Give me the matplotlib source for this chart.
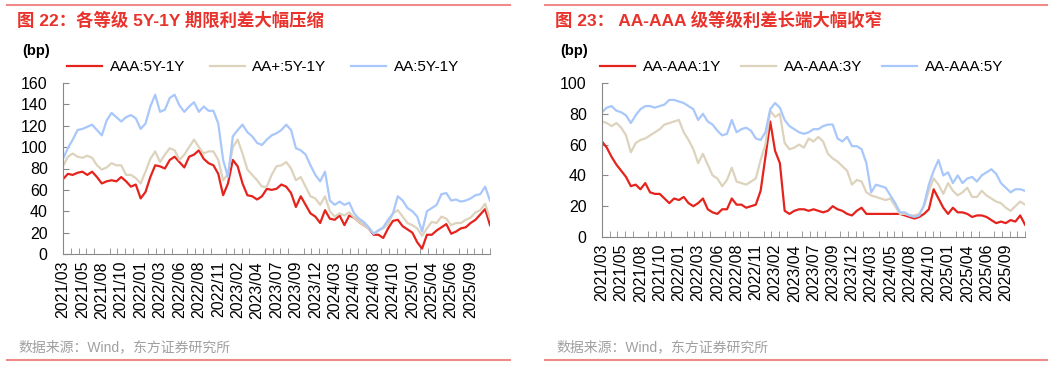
# coding=utf-8
# Two spread panels: 5Y-1Y term spreads by rating, and AA-AAA rating spreads by tenor
import numpy as np
import matplotlib as mpl
import matplotlib.pyplot as plt
from matplotlib.lines import Line2D

mpl.rcParams['font.family'] = ['Liberation Sans', 'Noto Sans CJK SC']

# x tick labels (category axis, one label every 4 samples)
date_labels = ['2021/03', '2021/05', '2021/08', '2021/10', '2022/01', '2022/03',
               '2022/06', '2022/08', '2022/11', '2023/02', '2023/04', '2023/07',
               '2023/09', '2023/12', '2024/03', '2024/05', '2024/08', '2024/10',
               '2025/01', '2025/04', '2025/06', '2025/09']

# Left panel (bp)
aaa_5y1y = [70, 75, 74, 76, 77, 74, 77, 72, 66, 68, 69, 68, 72, 68, 63, 65, 52, 58, 72, 83,
            82, 80, 88, 91, 86, 81, 91, 93, 97, 89, 85,
            83, 75, 55, 66, 88, 82, 66, 55, 54, 51, 54, 61, 60, 61, 65, 63, 57, 44, 54,
            46, 38, 35, 29, 41, 33, 32, 36, 27,
            36, 34, 30, 27, 24, 18, 18, 15, 24, 31, 32, 26, 23, 20, 11, 5, 18, 18, 22, 25,
            28, 19, 21, 24, 25, 29, 32, 37, 42, 27]
aap_5y1y = [82, 91, 94, 91, 90, 92, 90, 83, 79, 81, 85, 83, 83, 74, 74, 71, 66, 77, 89, 96,
            86, 93, 99, 97, 88, 93, 100, 107, 100, 94, 96,
            96, 88, 69, 75, 100, 107, 94, 79, 74, 69, 63, 63, 74, 82, 83, 86, 80, 69, 72,
            63, 54, 52, 46, 54, 40, 35, 38, 36,
            39, 34, 30, 27, 24, 19, 22, 24, 28, 38, 41, 35, 29, 27, 24, 17, 24, 30, 29, 35,
            33, 27, 29, 29, 32, 34, 39, 41, 47, 33]
aa_5y1y = [89, 99, 107, 116, 117, 119, 121, 116, 111, 125, 132, 128, 124, 128, 130, 127, 117, 122, 138, 149,
           133, 135, 146, 149, 139, 133, 138, 142, 133, 138, 134,
           134, 122, 88, 72, 110, 116, 121, 114, 110, 104, 102, 107, 111, 113, 116, 121, 116, 99, 97,
           93, 83, 74, 68, 77, 50, 46, 49, 46,
           48, 38, 33, 30, 25, 19, 22, 25, 32, 38, 54, 50, 43, 40, 35, 21, 40, 43, 46, 56,
           57, 50, 51, 49, 50, 52, 55, 56, 63, 50]

# Right panel (bp)
aa_aaa_1y = [62, 58, 52, 47, 43, 39, 33, 34, 31, 35, 29, 28, 28, 25, 22, 25, 24, 26, 22, 20,
             22, 25, 18, 16, 15, 18, 18, 25, 21, 21, 19,
             20, 21, 30, 52, 75, 56, 48, 17, 15, 17, 18, 18, 17, 18, 17, 16, 17, 20, 18,
             17, 15, 14, 17, 19, 15, 15, 15, 15, 15,
             15, 15, 15, 14, 13, 12, 13, 15, 18, 31, 25, 19, 15, 19, 16, 16, 15, 13, 14,
             14, 13, 11, 9, 10, 9, 11, 10, 14, 8]
aa_aaa_3y = [75, 74, 72, 74, 71, 66, 55, 61, 63, 64, 66, 68, 70, 73, 74, 75, 76, 68, 63, 57,
             48, 54, 47, 40, 38, 33, 37, 45, 36, 35, 34,
             36, 38, 50, 60, 82, 78, 80, 61, 57, 58, 60, 58, 64, 62, 65, 62, 54, 51, 49,
             46, 43, 34, 37, 36, 29, 27, 26, 25, 24,
             25, 20, 15, 15, 14, 14, 15, 20, 30, 38, 34, 28, 35, 30, 27, 29, 32, 26, 26,
             30, 27, 25, 23, 22, 19, 17, 20, 23, 21]
aa_aaa_5y = [81, 84, 85, 82, 81, 79, 74, 79, 83, 85, 85, 84, 85, 86, 89, 89, 88, 87, 85, 83,
             76, 80, 75, 73, 69, 66, 67, 76, 68, 70, 71,
             69, 64, 63, 68, 83, 87, 84, 76, 72, 70, 68, 67, 68, 70, 70, 72, 73, 73, 64,
             62, 65, 59, 59, 57, 48, 29, 34, 33, 32,
             27, 22, 16, 16, 14, 13, 14, 21, 34, 43, 50, 40, 42, 35, 40, 35, 38, 39, 36,
             40, 42, 44, 41, 35, 32, 29, 31, 31, 30]

W, H = 1061, 367
RED = '#e5231d'
BEIGE = '#ddd3bd'
BLUE = '#a8c7fa'
TITLE_RED = '#e8322b'
RULE = '#ee8a87'
AXC = '#888888'

fig = plt.figure(figsize=(W / 100, H / 100), dpi=100)


def style_axis(ax, ymax, n):
    ax.set_xlim(0, n - 1)
    ax.set_ylim(0, ymax)
    ax.set_yticks(np.arange(0, ymax + 1, 20))
    ax.set_xticks(np.arange(len(date_labels)) * 4)
    ax.set_xticklabels(date_labels, rotation=90, fontsize=11.5)
    ax.set_xticks(np.arange(0, n, 1.6), minor=True)
    ax.tick_params(axis='x', which='major', length=0, pad=5)
    ax.tick_params(axis='x', which='minor', length=4, direction='in', color=AXC)
    ax.tick_params(axis='y', length=4, direction='in', color=AXC, labelsize=11.5, pad=11)
    for s in ['top', 'right']:
        ax.spines[s].set_visible(False)
    for s in ['left', 'bottom']:
        ax.spines[s].set_color(AXC)


def panel(x0, x1, title, series, ax_box, ymax):
    # rules, title, unit, source
    fig.add_artist(Line2D([x0 / W, x1 / W], [1 - 5 / H] * 2, color=RULE, lw=1.5))
    fig.add_artist(Line2D([x0 / W, x1 / W], [1 - 360 / H] * 2, color=RULE, lw=1.5))
    fig.text((x0 + 10) / W, 1 - 20 / H, title, color=TITLE_RED, fontsize=12.5,
             fontweight='bold', va='center')
    fig.text((x0 + 15) / W, 1 - 51 / H, '(bp)', fontsize=10.5, fontweight='bold', va='center')
    fig.text((x0 + 11) / W, 1 - 347 / H, '数据来源：Wind，东方证券研究所', color='#a0a0a0',
             fontsize=10, va='center')

    ax = fig.add_axes(ax_box)
    x = np.arange(len(series[0]))
    handles = []
    for vals, c in zip(series, [RED, BEIGE, BLUE]):
        h, = ax.plot(x, vals, color=c, lw=1.6)
        handles.append(h)
    style_axis(ax, ymax, len(x))
    return ax, handles


ax1, h1 = panel(7, 510, '图 22：各等级 5Y-1Y 期限利差大幅压缩',
                [aaa_5y1y, aap_5y1y, aa_5y1y],
                [63 / W, 1 - 254 / H, (490 - 63) / W, (254 - 83) / H], 160)
ax1.legend(h1, ['AAA:5Y-1Y', 'AA+:5Y-1Y', 'AA:5Y-1Y'], loc='center left',
           bbox_to_anchor=(67 / W, 1 - 67 / H), bbox_transform=fig.transFigure,
           ncol=3, frameon=False, fontsize=11, handlelength=2.3, handletextpad=0.5,
           columnspacing=1.6, borderpad=0, borderaxespad=0)

ax2, h2 = panel(545, 1047, '图 23： AA-AAA 级等级利差长端大幅收窄',
                [aa_aaa_1y, aa_aaa_3y, aa_aaa_5y],
                [602 / W, 1 - 237 / H, (1025 - 602) / W, (237 - 83) / H], 100)
ax2.legend(h2, ['AA-AAA:1Y', 'AA-AAA:3Y', 'AA-AAA:5Y'], loc='center left',
           bbox_to_anchor=(600 / W, 1 - 67 / H), bbox_transform=fig.transFigure,
           ncol=3, frameon=False, fontsize=11, handlelength=2.3, handletextpad=0.5,
           columnspacing=1.3, borderpad=0, borderaxespad=0)

fig.savefig('out.png', dpi=100)
plt.close()
